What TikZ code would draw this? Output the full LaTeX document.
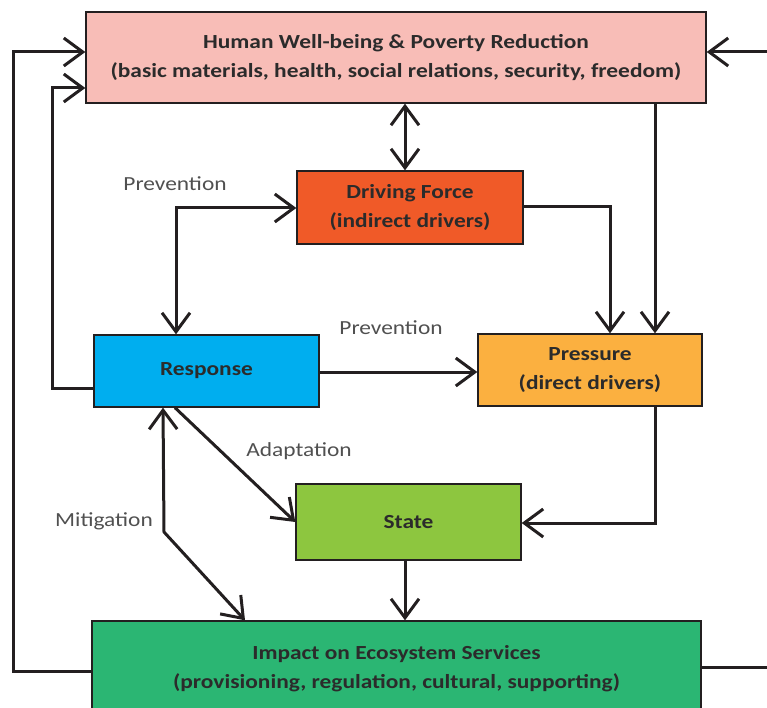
\documentclass[tikz,border=0pt]{standalone}
\usepackage{fontspec}
\setmainfont{Carlito}
\newfontfamily\boxfont[FakeStretch=1.17]{Carlito}
\newfontfamily\lblfont[FakeStretch=1.17]{Carlito}
\usetikzlibrary{arrows.meta}
\definecolor{cTop}{HTML}{F8BDB7}
\definecolor{cDF}{HTML}{F05A28}
\definecolor{cResp}{HTML}{00AEEF}
\definecolor{cPress}{HTML}{FBB040}
\definecolor{cState}{HTML}{8DC63F}
\definecolor{cImp}{HTML}{2BB673}
\definecolor{linec}{HTML}{231F20}
\definecolor{txt}{HTML}{2B2B2B}
\definecolor{lbltxt}{HTML}{505050}
\tikzset{
  box/.style={draw=linec, line width=1.4pt, inner sep=0pt, align=center, text=txt,
    font=\boxfont\bfseries\fontsize{20}{29}\selectfont},
  lbl/.style={inner sep=0pt, text=lbltxt, font=\lblfont\fontsize{20}{25}\selectfont},
  conn/.style={draw=linec, line width=3pt},
  >={Straight Barb[length=19pt,width=28pt]}
}
\begin{document}
\begin{tikzpicture}[x=1pt,y=-1pt]
\useasboundingbox (0,0) rectangle (767,708);
\clip (0,0) rectangle (767,708);
% boxes
\node[box, fill=cTop, minimum width=620pt, minimum height=91pt] (top) at (396,57.5)
  {Human Well-being \& Poverty Reduction\\(basic materials, health, social relations, security, freedom)};
\node[box, fill=cDF, minimum width=226pt, minimum height=73pt] (df) at (410,207.5)
  {Driving Force\\(indirect drivers)};
\node[box, fill=cResp, minimum width=225pt, minimum height=72pt] (resp) at (206.5,371)
  {Response};
\node[box, fill=cPress, minimum width=224pt, minimum height=72pt] (press) at (590,370)
  {Pressure\\(direct drivers)};
\node[box, fill=cState, minimum width=225pt, minimum height=76pt] (state) at (408.5,522)
  {State};
\node[box, fill=cImp, minimum width=609pt, minimum height=96pt] (impact) at (396.5,669)
  {Impact on Ecosystem Services\\(provisioning, regulation, cultural, supporting)};
% labels
\node[lbl] (l1) at (175,184) {Prevention};
\node[lbl] (l2) at (391,328) {Prevention};
\node[lbl] (l3) at (299,451) {Adaptation};
\node[lbl] (l4) at (104,521) {Mitigation};
% helper coordinates
\coordinate (xA) at (405,0);
\coordinate (xB) at (176,0);
\coordinate (yB) at (0,208);
\coordinate (yC) at (0,207);
\coordinate (xC) at (610,0);
\coordinate (xD) at (655,0);
\coordinate (yE) at (0,372);
\coordinate (yF) at (0,523);
\coordinate (xG) at (175,0);
\coordinate (yG) at (0,522);
\coordinate (xH) at (163,0);
\coordinate (m) at (164,532);
\coordinate (xH2) at (245,0);
\coordinate (yJ) at (0,388);
\coordinate (xJ) at (52,0);
\coordinate (yJ2) at (0,88);
\coordinate (yK) at (0,671);
\coordinate (xK) at (13,0);
\coordinate (yK2) at (0,52);
\coordinate (rOut) at (790,667);
\coordinate (rIn) at (790,52);
% connectors
\draw[conn,<->] (top.south -| xA) -- (df.north -| xA);
\draw[conn,<->] (resp.north -| xB) |- (df.west |- yB);
\draw[conn,->] (df.east |- yC) -| (press.north -| xC);
\draw[conn,->] (top.south -| xD) -- (press.north -| xD);
\draw[conn,->] (resp.east |- yE) -- (press.west |- yE);
\draw[conn,->] (press.south -| xD) |- (state.east |- yF);
\draw[conn,->] (resp.south -| xG) -- (state.west |- yG);
\draw[conn,<->] (resp.south -| xH) -- (m) -- (impact.north -| xH2);
\draw[conn,->] (state.south -| xA) -- (impact.north -| xA);
\draw[conn,->] (resp.west |- yJ) -| (xJ |- yJ2) -- (top.west |- yJ2);
\draw[conn,->] (impact.west |- yK) -| (xK |- yK2) -- (top.west |- yK2);
\draw[conn] (impact.east |- rOut) -- (rOut);
\draw[conn,->] (rIn) -- (top.east |- rIn);
\end{tikzpicture}
\end{document}
